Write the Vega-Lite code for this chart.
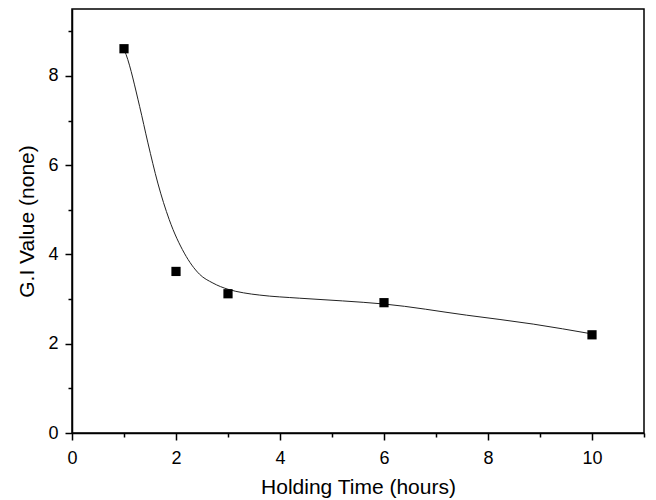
{
  "$schema": "https://vega.github.io/schema/vega-lite/v6.json",
  "width": 572,
  "height": 424,
  "autosize": "none",
  "padding": {"left": 72, "top": 9, "right": 12, "bottom": 67},
  "background": "white",
  "config": {
    "view": {"stroke": "black", "strokeWidth": 1.5},
    "font": "Liberation Sans",
    "axis": {
      "domainColor": "black",
      "domainWidth": 1.5,
      "tickColor": "black",
      "tickWidth": 1.5,
      "labelColor": "black",
      "labelFont": "Liberation Sans",
      "labelFontSize": 18,
      "titleFont": "Liberation Sans",
      "titleFontSize": 21,
      "titleFontWeight": "normal",
      "titleColor": "black",
      "grid": false
    }
  },
  "datasets": {
    "points": [
      {"time": 1, "gi": 8.61},
      {"time": 2, "gi": 3.62},
      {"time": 3, "gi": 3.12},
      {"time": 6, "gi": 2.92},
      {"time": 10, "gi": 2.2}
    ],
    "curve": [
      {"time": 1.0, "gi": 8.6},
      {"time": 1.04, "gi": 8.48},
      {"time": 1.3, "gi": 7.32},
      {"time": 1.46, "gi": 6.5},
      {"time": 1.65, "gi": 5.6},
      {"time": 1.87, "gi": 4.78},
      {"time": 2.16, "gi": 4.03},
      {"time": 2.45, "gi": 3.56},
      {"time": 2.71, "gi": 3.36},
      {"time": 3.0, "gi": 3.22},
      {"time": 3.3, "gi": 3.14},
      {"time": 3.61, "gi": 3.09},
      {"time": 4.38, "gi": 3.02},
      {"time": 5.2, "gi": 2.96},
      {"time": 6.0, "gi": 2.89},
      {"time": 7.59, "gi": 2.64},
      {"time": 8.87, "gi": 2.44},
      {"time": 10.0, "gi": 2.22}
    ]
  },
  "layer": [
    {
      "data": {"name": "curve"},
      "mark": {"type": "line", "interpolate": "monotone", "color": "#222222", "strokeWidth": 1},
      "encoding": {
        "x": {
          "field": "time", "type": "quantitative",
          "scale": {"domain": [0, 11], "nice": false, "zero": false},
          "axis": {
            "title": "Holding Time (hours)",
            "values": [0, 1, 2, 3, 4, 5, 6, 7, 8, 9, 10, 11],
            "labelExpr": "datum.value % 2 === 0 && datum.value < 11 ? datum.label : ''",
            "tickSize": {"condition": {"test": "datum.value % 2 === 0", "value": 7}, "value": 4},
            "labelPadding": 9,
            "titlePadding": 9,
            "labelFlush": false,
            "labelOverlap": false
          }
        },
        "y": {
          "field": "gi", "type": "quantitative",
          "scale": {"domain": [0, 9.5], "nice": false, "zero": false},
          "axis": {
            "title": "G.I Value (none)",
            "values": [0, 1, 2, 3, 4, 5, 6, 7, 8, 9],
            "labelExpr": "datum.value % 2 === 0 ? datum.label : ''",
            "tickSize": {"condition": {"test": "datum.value % 2 === 0", "value": 7}, "value": 4},
            "labelPadding": 7,
            "titlePadding": 10,
            "labelFlush": false,
            "labelOverlap": false
          }
        }
      }
    },
    {
      "data": {"name": "points"},
      "mark": {"type": "point", "shape": "square", "filled": true, "color": "black", "size": 85, "opacity": 1},
      "encoding": {
        "x": {"field": "time", "type": "quantitative"},
        "y": {"field": "gi", "type": "quantitative"}
      }
    }
  ]
}
